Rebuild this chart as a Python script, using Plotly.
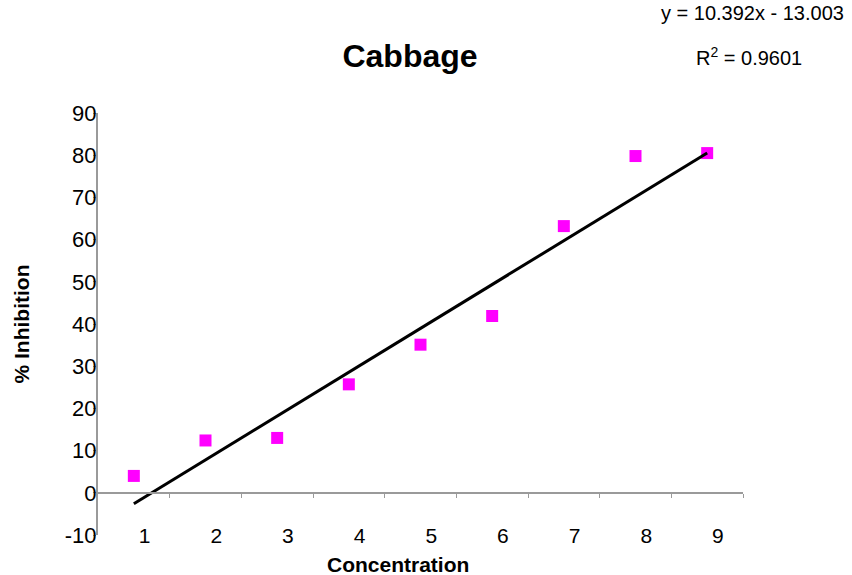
import plotly.graph_objects as go

# Data
concentration = [1, 2, 3, 4, 5, 6, 7, 8, 9]
tick_labels = ["1", "2", "3", "4", "5", "6", "7", "8", "9"]
inhibition = [4.0, 12.4, 13.0, 25.7, 35.1, 41.9, 63.2, 79.8, 80.5]
y_ticks = [-10, 0, 10, 20, 30, 40, 50, 60, 70, 80, 90]
y_tick_labels = ["-10", "0", "10", "20", "30", "40", "50", "60", "70", "80", "90"]
slope = 10.392
intercept = -13.003
r_squared = 0.9601

FONT = "Liberation Sans, Arial, sans-serif"
LABEL_OFFSET = 0.15  # category labels sit slightly right of the markers

trend_x = [concentration[0], concentration[-1]]
trend_y = [slope * v + intercept for v in trend_x]
boundaries = [c + 0.5 for c in concentration]
label_pos = [c + LABEL_OFFSET for c in concentration]

L, R, T, B = 98, 109, 113, 40
PW, PH = 852 - L - R, 575 - T - B


def px_x(px):
    return (px - L) / PW


def px_y(py):
    return (575 - B - py) / PH


fig = go.Figure()
fig.add_trace(go.Scatter(
    x=concentration, y=inhibition, mode="markers",
    marker=dict(symbol="square", size=12, color="#FF00FF",
                line=dict(width=0)),
    showlegend=False, xaxis="x", yaxis="y",
))
fig.add_trace(go.Scatter(
    x=trend_x, y=trend_y, mode="lines",
    line=dict(color="black", width=3),
    showlegend=False, xaxis="x2", yaxis="y",
))

fig.update_layout(
    width=852, height=575,
    margin=dict(l=L, r=R, t=T, b=B),
    paper_bgcolor="white", plot_bgcolor="white",
    font=dict(family=FONT, color="black"),
    title=dict(text="<b>Cabbage</b>", x=410 / 852, xanchor="center", xref="container",
               y=1 - 55.5 / 575, yanchor="middle",
               font=dict(size=32, family=FONT, color="black")),
    xaxis=dict(range=[0.5, 9.5], tickvals=label_pos, ticktext=tick_labels,
               showline=False, showgrid=False, zeroline=False, ticks="",
               tickfont=dict(size=21), ticklabelstandoff=-14, automargin=False),
    xaxis2=dict(range=[0.5, 9.5], overlaying="x", anchor="free", position=0.1,
                side="bottom", showline=True, linecolor="#9a9a9a", linewidth=2,
                tickvals=boundaries, ticks="outside", ticklen=4, tickwidth=1,
                tickcolor="#9a9a9a", showticklabels=False, showgrid=False,
                zeroline=False, automargin=False),
    yaxis=dict(range=[-10, 90], tickvals=y_ticks, ticktext=y_tick_labels,
               showgrid=False, zeroline=False,
               showline=True, linecolor="#9a9a9a", linewidth=2,
               ticks="outside", ticklen=3, tickcolor="#9a9a9a",
               tickfont=dict(size=22), ticklabelstandoff=-8, automargin=False,
               title=dict(text="<b>% Inhibition</b>", font=dict(size=21),
                          standoff=29)),
    annotations=[
        dict(text="<b>Concentration</b>", xref="paper", yref="paper",
             x=px_x(398), y=px_y(564), xanchor="center", yanchor="middle",
             showarrow=False, font=dict(size=21, family=FONT, color="black")),
        dict(text="y = 10.392x - 13.003", xref="paper", yref="paper",
             x=px_x(752), y=px_y(13), xanchor="center",
             yanchor="middle", showarrow=False,
             font=dict(size=20, family=FONT, color="black")),
        dict(text="R<sup>2</sup> = %.4f" % r_squared, xref="paper", yref="paper",
             x=px_x(749), y=px_y(56), xanchor="center",
             yanchor="middle", showarrow=False,
             font=dict(size=20, family=FONT, color="black")),
    ],
)

fig.write_html("out.html", config={"displayModeBar": False},
               post_script="document.body.style.margin='0';document.body.style.padding='0';")
